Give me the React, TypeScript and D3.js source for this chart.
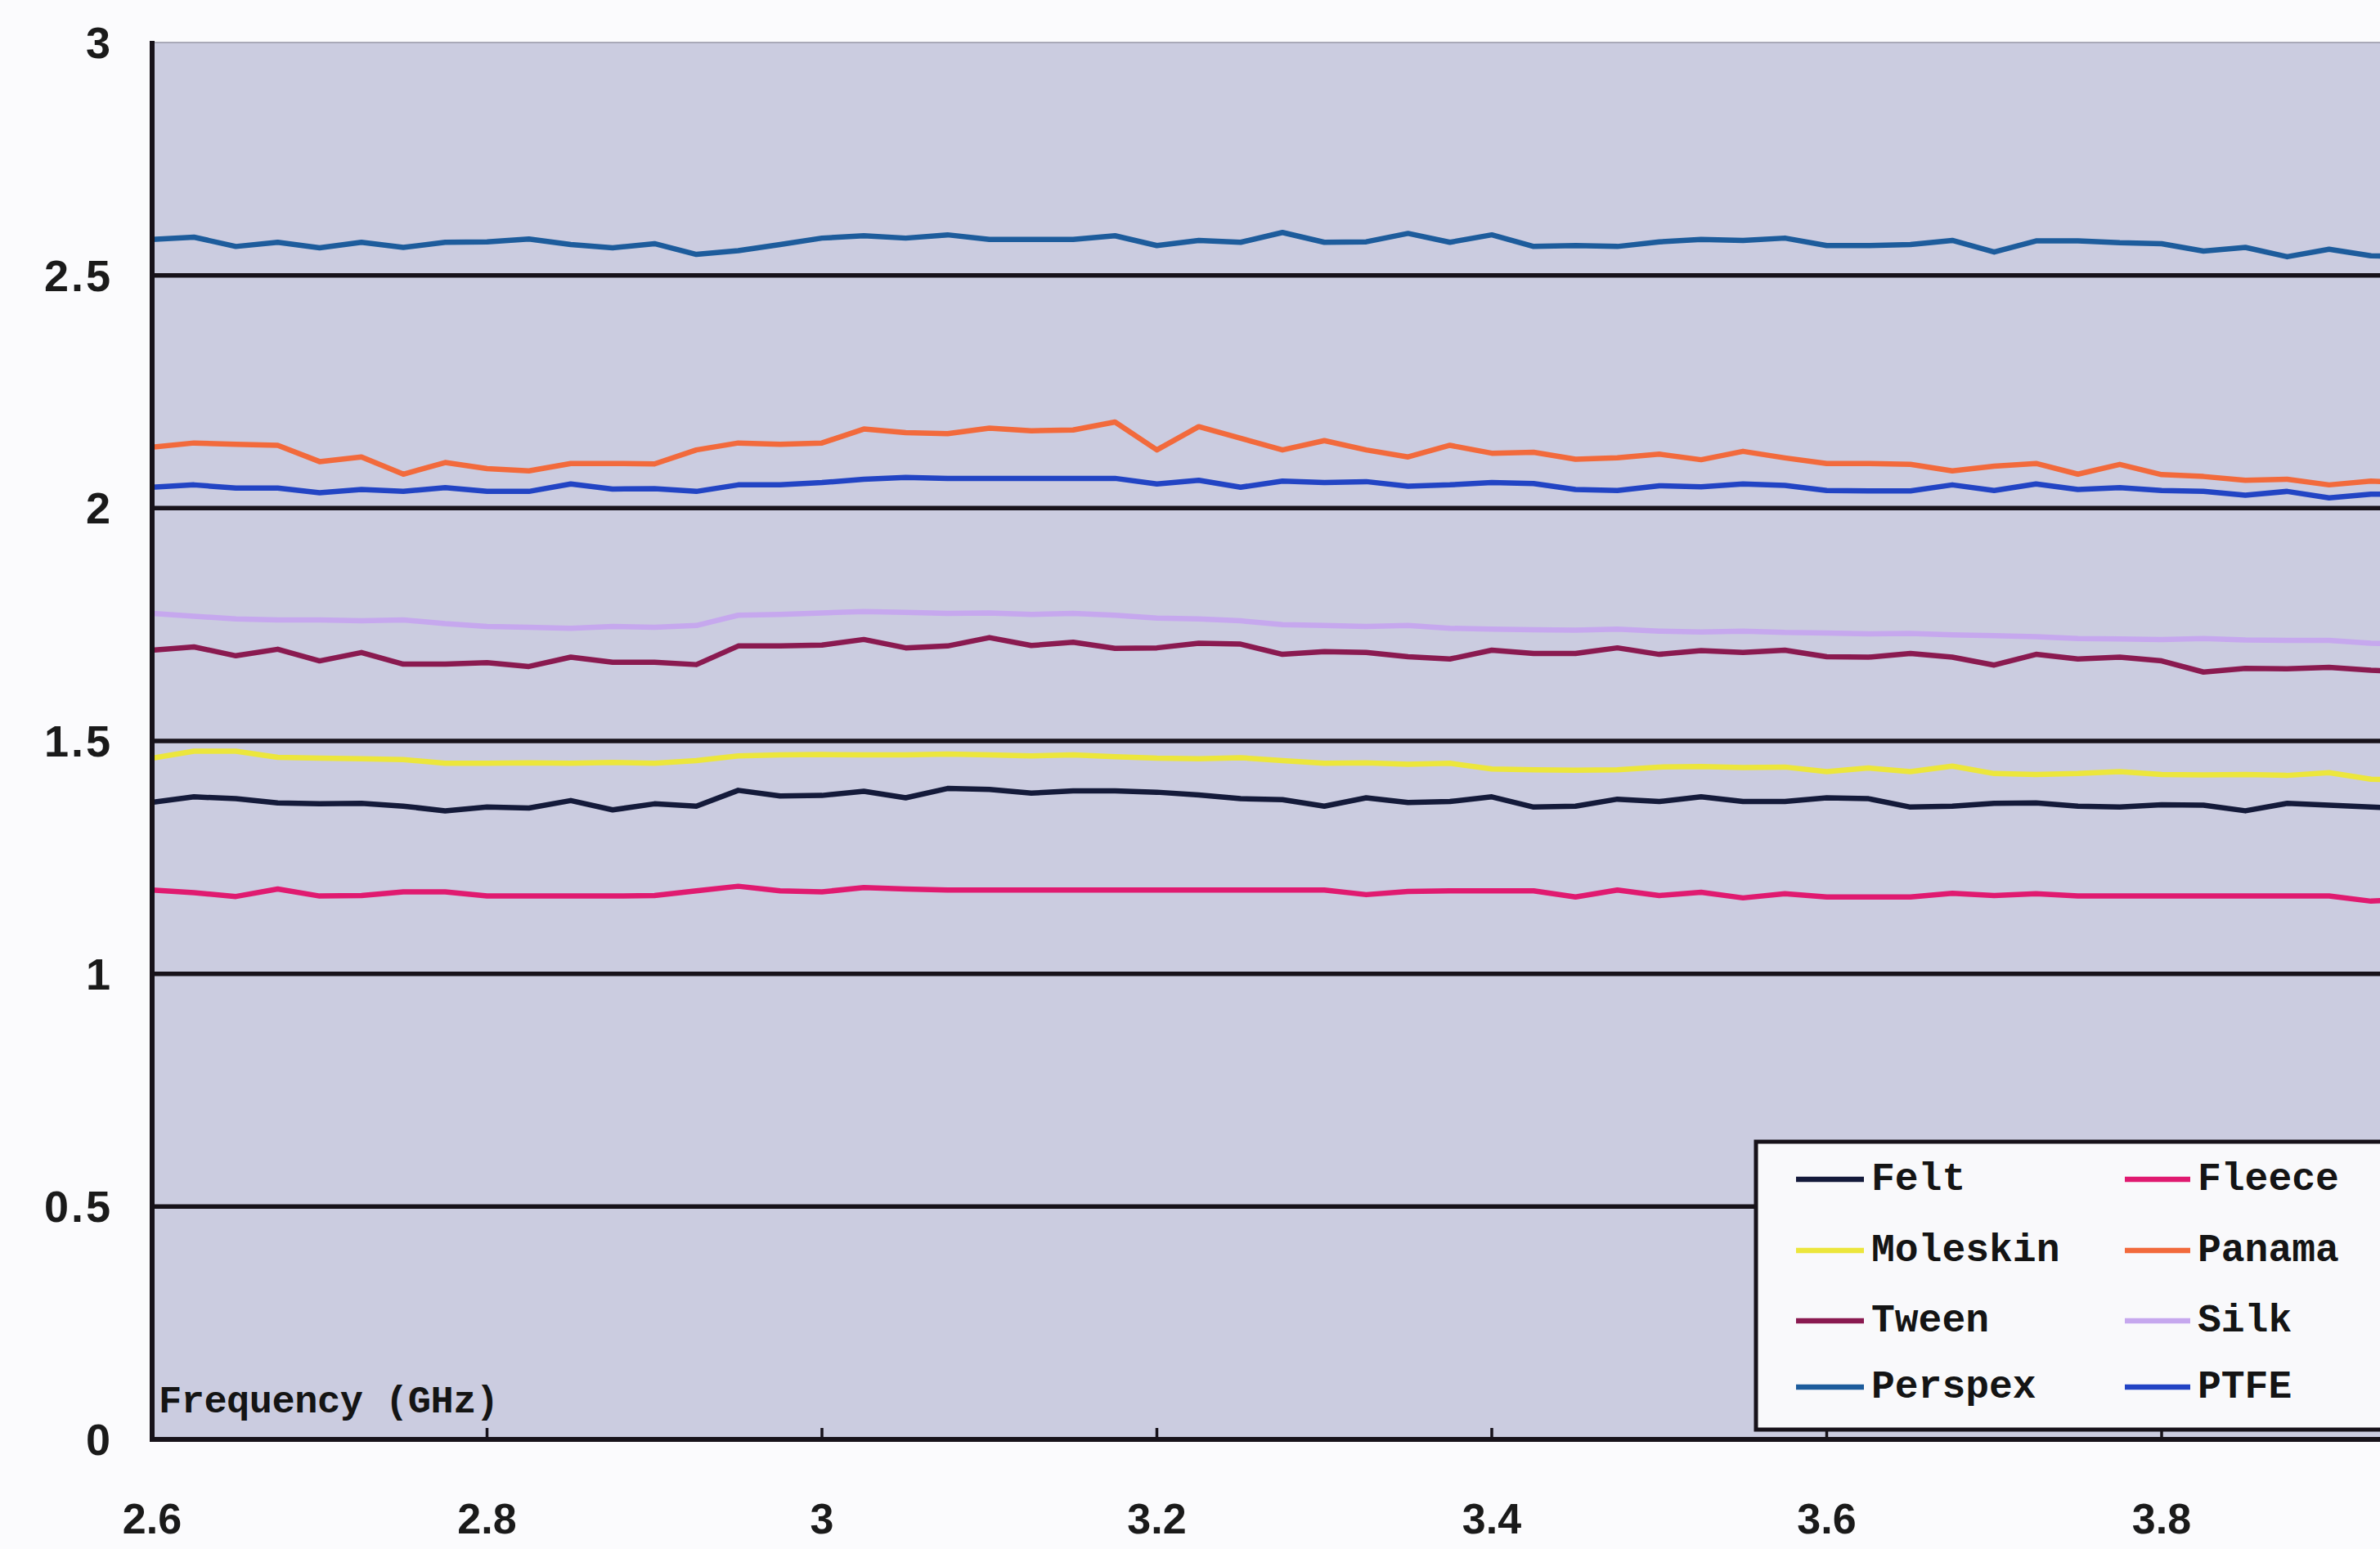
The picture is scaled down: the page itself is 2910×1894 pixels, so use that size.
import React from "react";
import * as d3 from "d3";

const frequency: number[] = [
  2.6, 2.625, 2.65, 2.675, 2.7, 2.725, 2.75, 2.775, 2.8, 2.825, 2.85, 2.875, 2.9, 2.925, 2.95, 2.975,
  3.0, 3.025, 3.05, 3.075, 3.1, 3.125, 3.15, 3.175, 3.2, 3.225, 3.25, 3.275, 3.3, 3.325, 3.35, 3.375,
  3.4, 3.425, 3.45, 3.475, 3.5, 3.525, 3.55, 3.575, 3.6, 3.625, 3.65, 3.675, 3.7, 3.725, 3.75, 3.775,
  3.8, 3.825, 3.85, 3.875, 3.9, 3.925, 3.95,
];

const perspex: number[] = [
  2.577, 2.582, 2.562, 2.571, 2.559, 2.571, 2.56, 2.571, 2.572, 2.578, 2.566, 2.559, 2.568, 2.545, 2.553, 2.566,
  2.58, 2.585, 2.58, 2.587, 2.577, 2.577, 2.577, 2.585, 2.564, 2.575, 2.571, 2.592, 2.571, 2.572, 2.59, 2.571,
  2.587, 2.562, 2.564, 2.562, 2.572, 2.577, 2.575, 2.58, 2.564, 2.564, 2.566, 2.575, 2.55, 2.574, 2.574, 2.57,
  2.568, 2.552, 2.56, 2.54, 2.556, 2.542, 2.54,
];
const panama: number[] = [
  2.131, 2.14, 2.137, 2.135, 2.1, 2.11, 2.073, 2.098, 2.085, 2.08, 2.096, 2.096, 2.095, 2.125, 2.14, 2.137,
  2.14, 2.17, 2.162, 2.16, 2.172, 2.166, 2.168, 2.185, 2.125, 2.175, 2.15, 2.125, 2.145, 2.125, 2.11, 2.135,
  2.118, 2.12, 2.105, 2.108, 2.116, 2.104, 2.122, 2.108, 2.096, 2.096, 2.094, 2.08, 2.09, 2.096, 2.073, 2.094,
  2.072, 2.068, 2.06, 2.062, 2.05, 2.058, 2.055,
];
const ptfe: number[] = [
  2.045, 2.05, 2.043, 2.043, 2.033, 2.04, 2.036, 2.044, 2.036, 2.036, 2.052, 2.041, 2.042, 2.036, 2.05, 2.05,
  2.055, 2.062, 2.066, 2.064, 2.064, 2.064, 2.064, 2.064, 2.052, 2.06, 2.045, 2.058, 2.055, 2.057, 2.047, 2.05,
  2.055, 2.053, 2.04, 2.038, 2.048, 2.046, 2.052, 2.049, 2.038, 2.037, 2.037, 2.05, 2.038, 2.052, 2.04, 2.044,
  2.038, 2.036, 2.028, 2.036, 2.022, 2.03, 2.03,
];
const silk: number[] = [
  1.774, 1.768, 1.762, 1.76, 1.76, 1.758, 1.76, 1.752, 1.746, 1.744, 1.742, 1.746, 1.744, 1.748, 1.77, 1.772,
  1.775, 1.778, 1.776, 1.774, 1.775, 1.772, 1.774, 1.77, 1.764, 1.762, 1.758, 1.75, 1.748, 1.746, 1.748, 1.742,
  1.74, 1.739, 1.738, 1.74, 1.736, 1.734, 1.736, 1.733, 1.732, 1.73, 1.731, 1.728, 1.726, 1.724, 1.72, 1.719,
  1.718, 1.72, 1.717, 1.716, 1.716, 1.71, 1.708,
];
const tween: number[] = [
  1.695, 1.702, 1.683, 1.697, 1.672, 1.69, 1.665, 1.665, 1.668, 1.66, 1.68, 1.669, 1.669, 1.664, 1.704, 1.704,
  1.706, 1.718, 1.7, 1.704, 1.722, 1.705, 1.712, 1.699, 1.7, 1.71, 1.708, 1.686, 1.692, 1.69, 1.681, 1.676,
  1.695, 1.688, 1.688, 1.7, 1.686, 1.694, 1.69, 1.695, 1.681, 1.68, 1.688, 1.68, 1.663, 1.686, 1.676, 1.68,
  1.672, 1.648, 1.656, 1.655, 1.658, 1.652, 1.648,
];
const moleskin: number[] = [
  1.463, 1.478, 1.478, 1.465, 1.463, 1.462, 1.46, 1.452, 1.452, 1.453, 1.452, 1.454, 1.452, 1.458, 1.468, 1.47,
  1.471, 1.47, 1.47, 1.472, 1.47, 1.468, 1.47, 1.466, 1.463, 1.462, 1.464, 1.458, 1.452, 1.453, 1.45, 1.452,
  1.44, 1.438, 1.437, 1.438, 1.444, 1.445, 1.443, 1.444, 1.434, 1.442, 1.434, 1.446, 1.43, 1.428, 1.43, 1.434,
  1.428, 1.427, 1.428, 1.426, 1.432, 1.418, 1.416,
];
const felt: number[] = [
  1.368, 1.38, 1.376, 1.367, 1.365, 1.366, 1.36, 1.35, 1.358, 1.356, 1.372, 1.352, 1.365, 1.36, 1.394, 1.382,
  1.383, 1.392, 1.378, 1.398, 1.396, 1.388, 1.393, 1.393, 1.39, 1.384, 1.376, 1.374, 1.36, 1.378, 1.368, 1.37,
  1.38, 1.358, 1.36, 1.375, 1.37, 1.38, 1.37, 1.37, 1.378, 1.376, 1.358, 1.36, 1.366, 1.367, 1.36, 1.358,
  1.363, 1.362, 1.35, 1.366, 1.362, 1.358, 1.355,
];
const fleece: number[] = [
  1.18, 1.174, 1.166, 1.182, 1.167, 1.168, 1.176, 1.176, 1.167, 1.167, 1.167, 1.167, 1.168, 1.178, 1.188, 1.178,
  1.176, 1.185, 1.182, 1.18, 1.18, 1.18, 1.18, 1.18, 1.18, 1.18, 1.18, 1.18, 1.18, 1.17, 1.177, 1.178,
  1.178, 1.178, 1.165, 1.18, 1.168, 1.175, 1.163, 1.172, 1.165, 1.165, 1.165, 1.173, 1.168, 1.172, 1.167, 1.167,
  1.167, 1.167, 1.167, 1.167, 1.167, 1.156, 1.16,
];

const seriesNames: string[] = ["Felt", "Fleece", "Moleskin", "Panama", "Tween", "Silk", "Perspex", "PTFE"];
const seriesValues: number[][] = [felt, fleece, moleskin, panama, tween, silk, perspex, ptfe];
const seriesColors: string[] = ["#141a3a", "#e01a70", "#ece63c", "#f26a3c", "#8a1a50", "#c6a8ee", "#1d5c9c", "#2244c4"];
// draw order (back to front)
const drawOrder: number[] = [6, 5, 4, 3, 7, 2, 0, 1];

const yTicks: number[] = [0, 0.5, 1, 1.5, 2, 2.5, 3];
const yTickLabels: string[] = ["0", "0.5", "1", "1.5", "2", "2.5", "3"];
const xTicks: number[] = [2.6, 2.8, 3.0, 3.2, 3.4, 3.6, 3.8];
const xTickLabels: string[] = ["2.6", "2.8", "3", "3.2", "3.4", "3.6", "3.8"];

const W = 2910;
const H = 1894;
const LEFT = 186;
const TOP = 52;
const BOTTOM = 1760;

export default function App() {
  const x = d3.scaleLinear().domain([2.6, 4.0]).range([LEFT, LEFT + 7 * 409.5]);
  const y = d3.scaleLinear().domain([0, 3]).range([BOTTOM, TOP]);
  const line = d3
    .line<number>()
    .x((_, i) => x(frequency[i]))
    .y((d) => y(d));

  const monoFont = "'Liberation Mono', 'DejaVu Sans Mono', monospace";
  const sansFont = "'Liberation Sans', Arial, sans-serif";

  const legendRows = [1442, 1529, 1615, 1696];
  const legendCols = [
    { lx1: 2196, lx2: 2279, tx: 2288 },
    { lx1: 2598, lx2: 2678, tx: 2687 },
  ];

  return (
    <svg
      width={W}
      height={H}
      style={{ position: "absolute", left: 0, top: 0, background: "#fbfbfd" }}
    >
      <rect x={0} y={0} width={W} height={H} fill="#fbfbfd" />
      <defs>
        <clipPath id="plotClip">
          <rect x={LEFT} y={TOP} width={W - LEFT} height={BOTTOM - TOP} />
        </clipPath>
      </defs>
      {/* plot background */}
      <rect x={LEFT} y={TOP} width={W - LEFT} height={BOTTOM - TOP} fill="#cbcce0" />
      <line x1={LEFT} x2={W} y1={TOP} y2={TOP} stroke="#a9a9b8" strokeWidth={2} />

      {/* gridlines */}
      {yTicks.filter((t) => t > 0 && t < 3).map((t) => (
        <line key={"g" + t} x1={LEFT} x2={W} y1={y(t)} y2={y(t)} stroke="#17121a" strokeWidth={5.5} />
      ))}

      {/* series */}
      <g clipPath="url(#plotClip)">
        {drawOrder.map((k) => (
          <path
            key={seriesNames[k]}
            d={line(seriesValues[k]) || ""}
            fill="none"
            stroke={seriesColors[k]}
            strokeWidth={6.5}
            strokeLinejoin="round"
          />
        ))}
      </g>

      {/* axes */}
      <line x1={LEFT} x2={LEFT} y1={TOP - 2} y2={BOTTOM + 3} stroke="#17121a" strokeWidth={6} />
      <line x1={LEFT} x2={W} y1={BOTTOM} y2={BOTTOM} stroke="#17121a" strokeWidth={6} />
      {xTicks.map((t) => (
        <line key={"t" + t} x1={x(t)} x2={x(t)} y1={BOTTOM} y2={BOTTOM - 14} stroke="#17121a" strokeWidth={3.5} />
      ))}

      {/* y tick labels */}
      {yTicks.map((t, i) => (
        <text
          key={"yl" + t}
          x={138}
          y={y(t)}
          textAnchor="end"
          dominantBaseline="central"
          fontFamily={sansFont}
          fontWeight="bold"
          fontSize={54}
          letterSpacing={3}
          fill="#1a1a1a"
        >
          {yTickLabels[i]}
        </text>
      ))}

      {/* x tick labels */}
      {xTicks.map((t, i) => (
        <text
          key={"xl" + t}
          x={x(t)}
          y={1857}
          textAnchor="middle"
          dominantBaseline="central"
          fontFamily={sansFont}
          fontWeight="bold"
          fontSize={52}
          fill="#1a1a1a"
        >
          {xTickLabels[i]}
        </text>
      ))}

      {/* axis title inside plot */}
      <text
        x={194}
        y={1727}
        fontFamily={monoFont}
        fontWeight="bold"
        fontSize={47}
        letterSpacing={-0.5}
        fill="#141414"
      >
        Frequency (GHz)
      </text>

      {/* legend */}
      <rect x={2147} y={1396} width={W - 2147 + 20} height={352} fill="#f9f9fb" stroke="#17121a" strokeWidth={5} />
      {seriesNames.map((name, k) => {
        const col = legendCols[k % 2];
        const ry = legendRows[Math.floor(k / 2)];
        return (
          <g key={"lg" + name}>
            <line x1={col.lx1} x2={col.lx2} y1={ry} y2={ry} stroke={seriesColors[k]} strokeWidth={6.5} />
            <text
              x={col.tx}
              y={ry}
              dominantBaseline="central"
              fontFamily={monoFont}
              fontWeight="bold"
              fontSize={48}
              fill="#141414"
            >
              {name}
            </text>
          </g>
        );
      })}
    </svg>
  );
}
